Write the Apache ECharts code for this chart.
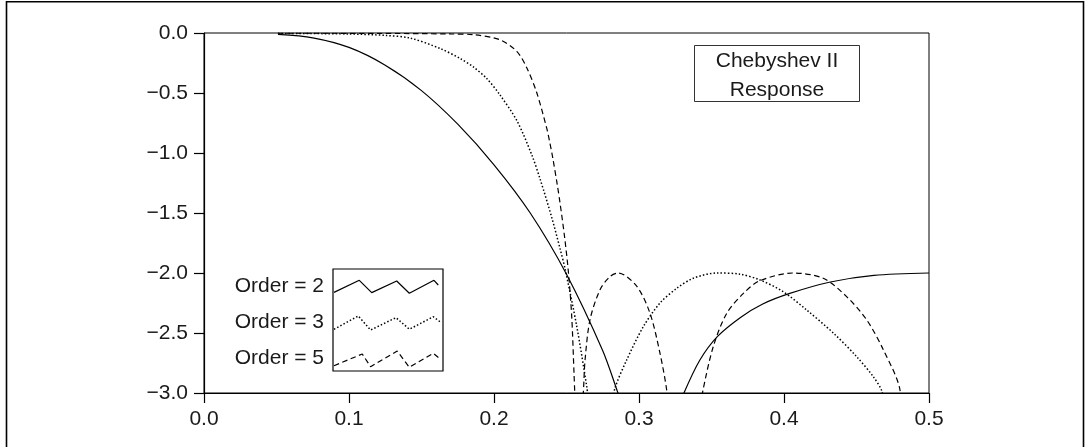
<!DOCTYPE html>
<html>
<head>
<meta charset="utf-8">
<script src="https://cdn.jsdelivr.net/npm/echarts@6.0.0/dist/echarts.min.js"></script>
<style>
  html, body { margin: 0; padding: 0; background: #fff; }
  #chart { width: 1085px; height: 447px; }
</style>
</head>
<body>
<div id="chart"></div>
<script>
// tick labels
const xTickLabels = ['0.0', '0.1', '0.2', '0.3', '0.4', '0.5']
const yTickLabels = ['0.0', '\u22120.5', '\u22121.0', '\u22121.5', '\u22122.0', '\u22122.5', '\u22123.0']

// response curves: [frequency, log magnitude]
// each order is split where it dips below the plot (notches)
const order2 = [
  [[0.051, -0.012], [0.075, -0.04], [0.100, -0.12], [0.125, -0.268], [0.150, -0.48],
   [0.175, -0.76], [0.200, -1.098], [0.225, -1.50], [0.250, -2.01], [0.275, -2.648],
   [0.2855, -3.0], [0.2885, -3.1]],
  [[0.3285, -3.1], [0.331, -3.0], [0.342, -2.725], [0.354, -2.53], [0.370, -2.37],
   [0.385, -2.26], [0.404, -2.17], [0.432, -2.075], [0.462, -2.02], [0.5, -2.0]]
]
const order3 = [
  [[0.051, -0.003], [0.100, -0.008], [0.125, -0.02], [0.142, -0.042], [0.163, -0.13],
   [0.177, -0.215], [0.186, -0.285], [0.195, -0.38], [0.204, -0.514], [0.216, -0.736],
   [0.226, -1.014], [0.232, -1.225], [0.240, -1.545], [0.2455, -1.795], [0.249, -1.965],
   [0.257, -2.44], [0.264, -2.95], [0.2655, -3.1]],
  [[0.2815, -3.1], [0.2834, -2.96], [0.2915, -2.725], [0.303, -2.447], [0.3145, -2.25],
   [0.326, -2.128], [0.3374, -2.044], [0.3536, -2.0], [0.3697, -2.01], [0.3834, -2.058],
   [0.3995, -2.156], [0.4156, -2.308], [0.434, -2.5], [0.4501, -2.697], [0.4616, -2.864],
   [0.4674, -2.98], [0.469, -3.1]]
]
const order5 = [
  [[0.051, -0.002], [0.12, -0.003], [0.17, -0.008], [0.186, -0.014], [0.204, -0.056],
   [0.2157, -0.153], [0.2226, -0.29], [0.2294, -0.494], [0.2363, -0.791], [0.2383, -0.901],
   [0.2406, -1.046], [0.2437, -1.269], [0.2455, -1.413], [0.2486, -1.692], [0.2512, -1.978],
   [0.2536, -2.362], [0.2552, -2.842], [0.2557, -3.0], [0.256, -3.1]],
  [[0.2608, -3.1], [0.2616, -3.0], [0.2628, -2.725], [0.2662, -2.39], [0.2731, -2.14],
   [0.280, -2.03], [0.2857, -2.0], [0.2984, -2.11], [0.3076, -2.336], [0.3145, -2.67],
   [0.3191, -2.975], [0.3196, -3.1]],
  [[0.343, -3.1], [0.3439, -2.99], [0.3513, -2.61], [0.3605, -2.336], [0.372, -2.17],
   [0.3834, -2.064], [0.4065, -2.0], [0.4271, -2.044], [0.4432, -2.197], [0.457, -2.39],
   [0.4685, -2.64], [0.480, -2.975], [0.4805, -3.1]]
]

// legend sample zigzags (box coordinates 0..1)
const legendNames = ['Order = 2', 'Order = 3', 'Order = 5']
const legend2 = [[0.009, 0.771], [0.239, 0.889], [0.352, 0.768], [0.579, 0.882], [0.694, 0.762], [0.918, 0.889], [0.957, 0.843]]
const legend3 = [[0.009, 0.409], [0.230, 0.539], [0.342, 0.402], [0.573, 0.523], [0.694, 0.409], [0.912, 0.532], [0.973, 0.483]]
const legend5 = [[0.009, 0.052], [0.266, 0.167], [0.342, 0.042], [0.584, 0.196], [0.694, 0.036], [0.912, 0.174], [0.973, 0.118]]

const titleLines = ['Chebyshev II', 'Response']

const FONT = '"Liberation Sans", Arial, Helvetica, sans-serif'
const SOLID = 'solid'
const DOTTED = [1.5, 2.1]
const DASHED = [5.5, 3.5]

const chart = echarts.init(document.getElementById('chart'))

const series = []
function addCurve(segments, dash, width) {
  segments.forEach(seg => {
    series.push({
      type: 'line',
      xAxisIndex: 0,
      yAxisIndex: 0,
      data: seg,
      showSymbol: false,
      smooth: 0.3,
      clip: true,
      silent: true,
      lineStyle: { color: '#000', width: width, type: dash },
    })
  })
}
addCurve(order2, SOLID, 1.2)
addCurve(order3, DOTTED, 1.5)
addCurve(order5, DASHED, 1.2)

// legend samples
;[[legend2, SOLID, 1.2], [legend3, DOTTED, 1.5], [legend5, DASHED, 1.2]].forEach(([d, dash, w]) => {
  series.push({
    type: 'line',
    xAxisIndex: 1,
    yAxisIndex: 1,
    data: d,
    showSymbol: false,
    silent: true,
    lineStyle: { color: '#000', width: w, type: dash },
  })
})

const option = {
  animation: false,
  backgroundColor: '#fff',
  textStyle: { fontFamily: FONT },
  grid: [
    { left: 204, top: 33, width: 725, height: 360, show: true, borderColor: '#000', borderWidth: 1, backgroundColor: 'transparent' },
    { left: 333, top: 269, width: 110, height: 102, show: true, borderColor: '#000', borderWidth: 1.2, backgroundColor: '#fff' },
  ],
  xAxis: [
    {
      type: 'value', gridIndex: 0, min: 0, max: 0.5, interval: 0.1,
      axisLine: { show: true, onZero: false, lineStyle: { color: '#000', width: 1.2 } },
      axisTick: { show: true, length: 10, lineStyle: { color: '#000', width: 1.2 } },
      splitLine: { show: false },
      axisLabel: {
        margin: 16, fontSize: 21, color: '#1a1a1a', fontFamily: FONT,
        formatter: v => xTickLabels[Math.round(v / 0.1)],
      },
    },
    { type: 'value', gridIndex: 1, min: 0, max: 1, show: false },
  ],
  yAxis: [
    {
      type: 'value', gridIndex: 0, min: -3, max: 0, interval: 0.5,
      axisLine: { show: true, onZero: false, lineStyle: { color: '#000', width: 1.2 } },
      axisTick: { show: true, length: 10, lineStyle: { color: '#000', width: 1.2 } },
      splitLine: { show: false },
      axisLabel: {
        margin: 16, fontSize: 21, color: '#1a1a1a', fontFamily: FONT,
        formatter: v => yTickLabels[Math.round(-v / 0.5)],
      },
    },
    { type: 'value', gridIndex: 1, min: 0, max: 1, show: false },
  ],
  series: series,
  graphic: [
    // outer frame
    {
      type: 'rect', silent: true,
      shape: { x: 6.5, y: 1.8, width: 1077, height: 500 },
      style: { fill: 'none', stroke: '#000', lineWidth: 1.6 },
    },
    // title box
    {
      type: 'rect', silent: true, z: 10,
      shape: { x: 694.5, y: 45.5, width: 165, height: 56 },
      style: { fill: '#fff', stroke: '#333', lineWidth: 1 },
    },
    {
      type: 'text', silent: true, z: 11,
      x: 777, y: 76,
      style: {
        text: titleLines.join('\n'), fontSize: 21, lineHeight: 29, fontFamily: FONT,
        fill: '#1a1a1a', align: 'center', verticalAlign: 'middle',
      },
    },
    // legend labels
    ...legendNames.map((name, i) => ({
      type: 'text', silent: true, z: 11,
      x: 324, y: [286, 322, 358.5][i],
      style: {
        text: name, fontSize: 21, fontFamily: FONT, fill: '#1a1a1a',
        align: 'right', verticalAlign: 'middle',
      },
    })),
  ],
}

chart.setOption(option)
</script>
</body>
</html>
